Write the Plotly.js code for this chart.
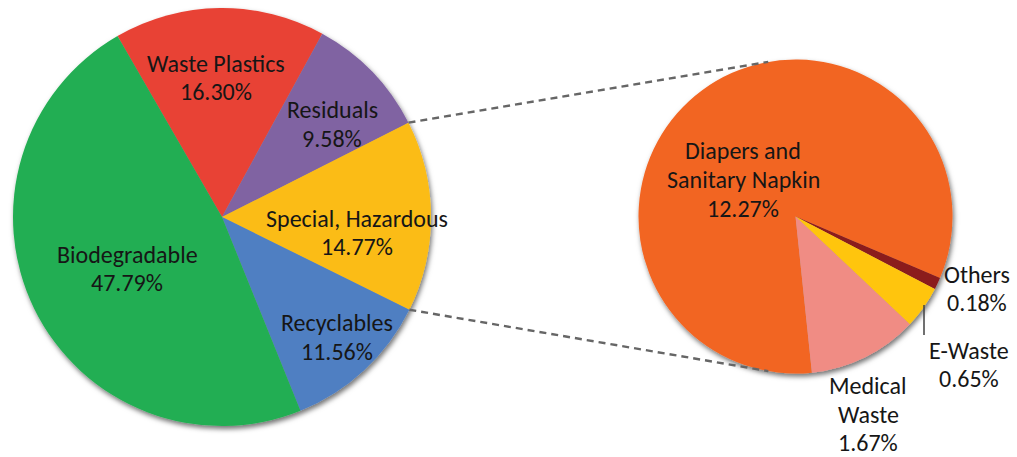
<!DOCTYPE html>
<html>
<head>
<meta charset="utf-8">
<script src="https://cdn.plot.ly/plotly-3.0.1.min.js"></script>
<style>
  html, body { margin: 0; padding: 0; background: #ffffff; }
  #chart { width: 1017px; height: 457px; }
</style>
</head>
<body>
<div id="chart"></div>
<script>
// Municipal solid waste composition (share of total, %)
const mainLabels = ['Waste Plastics', 'Residuals', 'Special, Hazardous', 'Recyclables', 'Biodegradable'];
const mainShares = [16.30, 9.58, 14.77, 11.56, 47.79];
const mainColors = ['#E84336', '#8064A2', '#FBBC14', '#4F7FC2', '#23AE52'];

// Breakdown of the "Special, Hazardous" share
const subLabels = ['Diapers and<br>Sanitary Napkin', 'Others', 'E-Waste', 'Medical<br>Waste'];
const subShares = [12.27, 0.18, 0.65, 1.67];
const subColors = ['#F26522', '#8B1A1A', '#FFC50A', '#F08C84'];

const W = 1017, H = 457;
const FONT = 'Carlito, Lato, "Open Sans", sans-serif';
const FONT_SIZE = 24;
const LINE_GAP = 28.7;
const TEXT_COLOR = '#161616';

// Pie placement in pixels (centre and radius)
const mainPie = { cx: 222, cy: 217, r: 209, rotation: -30 };
const subPie  = { cx: 795.5, cy: 216.5, r: 157, rotation: 174 };

function domainOf(p) {
  return {
    x: [(p.cx - p.r) / W, (p.cx + p.r) / W],
    y: [1 - (p.cy + p.r) / H, 1 - (p.cy - p.r) / H]
  };
}
const px = x => x / W;
const py = y => 1 - y / H;

function pointOnPie(p, deg) {
  const a = deg * Math.PI / 180;
  return [p.cx + p.r * Math.sin(a), p.cy - p.r * Math.cos(a)];
}

const traces = [
  {
    type: 'pie', labels: mainLabels, values: mainShares,
    marker: { colors: mainColors, line: { width: 0 } },
    sort: false, direction: 'clockwise', rotation: mainPie.rotation,
    textinfo: 'none', hoverinfo: 'skip', domain: domainOf(mainPie)
  },
  {
    type: 'pie', labels: subLabels, values: subShares,
    marker: { colors: subColors, line: { width: 0 } },
    sort: false, direction: 'clockwise', rotation: subPie.rotation,
    textinfo: 'none', hoverinfo: 'skip', domain: domainOf(subPie)
  }
];

// Edges of the "Special, Hazardous" slice on the main pie
const mainTotal = mainShares.reduce((a, b) => a + b, 0);
const specialIdx = mainLabels.indexOf('Special, Hazardous');
let startShare = 0;
for (let i = 0; i < specialIdx; i++) startShare += mainShares[i];
const edgeA = mainPie.rotation + startShare / mainTotal * 360;
const edgeB = edgeA + mainShares[specialIdx] / mainTotal * 360;
const fromTop = pointOnPie(mainPie, edgeA);
const fromBot = pointOnPie(mainPie, edgeB);
const toTop = pointOnPie(subPie, -10);
const toBot = pointOnPie(subPie, 190);

const connector = (a, b) => ({
  type: 'line', xref: 'paper', yref: 'paper',
  x0: px(a[0]), y0: py(a[1]), x1: px(b[0]), y1: py(b[1]),
  line: { color: '#666666', width: 2.4, dash: '7px,5px' }
});

const shapes = [
  connector(fromTop, toTop),
  connector(fromBot, toBot),
  { type: 'line', xref: 'paper', yref: 'paper',
    x0: px(924), y0: py(305), x1: px(924), y1: py(335),
    line: { color: '#404040', width: 1.5 } }
];

const pct = v => v.toFixed(2) + '%';

// Label anchor points (pixel centres of each text block)
const mainLabelPos = [[216, 77.5], [332, 124], [357, 232.5], [337, 337], [127, 268.5]];
const subLabelPos = [[743, 179.5], [977, 288.5], [969, 364.5], [868, 414]];

const annotations = [];
function addLabel(lab, value, pos) {
  const lines = lab.split('<br>').concat([pct(value)]);
  const top = pos[1] - (lines.length - 1) * LINE_GAP / 2;
  lines.forEach((t, k) => {
    annotations.push({
      xref: 'paper', yref: 'paper', x: px(pos[0]), y: py(top + k * LINE_GAP),
      xanchor: 'center', yanchor: 'middle', showarrow: false,
      text: t, font: { family: FONT, size: FONT_SIZE, color: TEXT_COLOR }
    });
  });
}
mainLabels.forEach((lab, i) => addLabel(lab, mainShares[i], mainLabelPos[i]));
subLabels.forEach((lab, i) => addLabel(lab, subShares[i], subLabelPos[i]));

const layout = {
  width: W, height: H,
  margin: { l: 0, r: 0, t: 0, b: 0 },
  paper_bgcolor: '#ffffff',
  showlegend: false,
  shapes: shapes,
  annotations: annotations
};

Plotly.newPlot('chart', traces, layout, { displayModeBar: false, staticPlot: true }).then(gd => {
  // soft drop shadow under both pies
  const svg = gd.querySelector('svg.main-svg');
  const NS = 'http://www.w3.org/2000/svg';
  let defs = svg.querySelector('defs');
  if (!defs) { defs = document.createElementNS(NS, 'defs'); svg.insertBefore(defs, svg.firstChild); }
  const filter = document.createElementNS(NS, 'filter');
  filter.setAttribute('id', 'pieShadow');
  filter.setAttribute('x', '-10%'); filter.setAttribute('y', '-10%');
  filter.setAttribute('width', '120%'); filter.setAttribute('height', '120%');
  const shadow = document.createElementNS(NS, 'feDropShadow');
  shadow.setAttribute('dx', '1.5'); shadow.setAttribute('dy', '3');
  shadow.setAttribute('stdDeviation', '2.6');
  shadow.setAttribute('flood-color', '#000'); shadow.setAttribute('flood-opacity', '0.55');
  filter.appendChild(shadow);
  defs.appendChild(filter);
  gd.querySelectorAll('.pielayer .trace').forEach(g => g.setAttribute('filter', 'url(#pieShadow)'));
});
</script>
</body>
</html>
